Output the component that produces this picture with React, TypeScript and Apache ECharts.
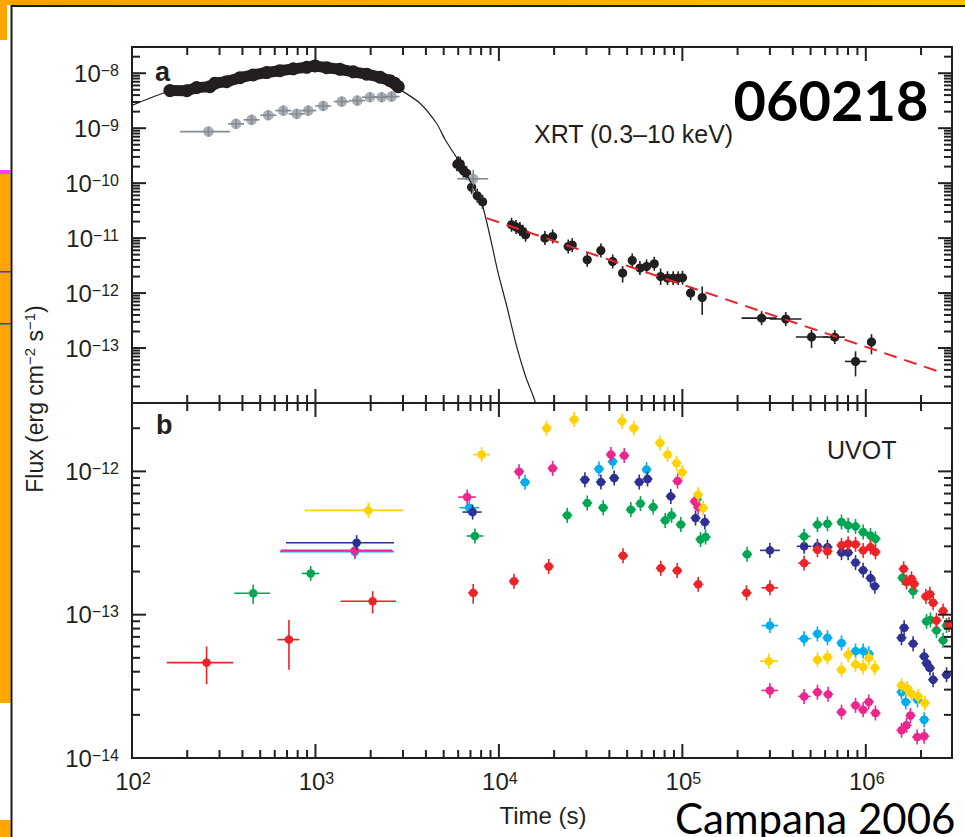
import React, { useEffect, useRef } from "react";
import * as echarts from "echarts";

// ---------- axis ranges & ticks ----------
const T_MIN = 100;
const T_MAX = 2.95e6;
const TOP_F_MIN = 1e-14;
const TOP_F_MAX = 3e-8;
const BOT_F_MIN = 1e-14;
const BOT_F_MAX = 3e-12;

const xDecades = [1e2, 1e3, 1e4, 1e5, 1e6];
const xDecadeLabels = ["2", "3", "4", "5", "6"];
const topYDecades = [1e-8, 1e-9, 1e-10, 1e-11, 1e-12, 1e-13];
const topYDecadeLabels = ["−8", "−9", "−10", "−11", "−12", "−13"];
const botYDecades = [1e-12, 1e-13, 1e-14];
const botYDecadeLabels = ["−12", "−13", "−14"];

// ---------- panel a: XRT ----------
// dense WT light curve (thick band) [t, flux]
const xrtBand = [
  [161, 4.83e-9], [199, 4.8e-9], [225, 5.47e-9], [266, 5.7e-9], [283, 6.58e-9],
  [328, 7.03e-9], [388, 8.3e-9], [458, 9.3e-9], [542, 1.03e-8], [640, 1.11e-8],
  [757, 1.2e-8], [896, 1.28e-8], [994, 1.36e-8], [1151, 1.26e-8], [1360, 1.18e-8],
  [1607, 1.06e-8], [1901, 9.6e-9], [2247, 8.46e-9], [2547, 7.3e-9], [2700, 6.6e-9], [2827, 5.7e-9],
];
// cut-off model curve [t, flux]
const modelCurve = [
  [100, 2.6e-9], [160, 4.7e-9], [300, 7.0e-9], [550, 1.0e-8], [1000, 1.3e-8],
  [1600, 1.08e-8], [2400, 7.6e-9], [2880, 5.1e-9], [3711, 2.85e-9], [4571, 1.23e-9],
  [5080, 6.3e-10], [6200, 2.2e-10], [7200, 9e-11], [8213, 3.5e-11], [9910, 2.3e-12],
  [11010, 6e-13], [12490, 1.07e-13], [14000, 3e-14], [15700, 1.1e-14], [16500, 5e-15],
];
// power-law decay (red dashed) [t, flux]
const powerLaw = [[8570, 2.31e-11], [2.48e6, 3.76e-14]];
// late XRT points [t, flux, tLo, tHi, fLo, fHi]
const xrtLate = [
  [5900, 2.2e-10], [6000, 2.31e-10], [6150, 2.25e-10], [6260, 1.87e-10], [6400, 1.7e-10],
  [6670, 1.52e-10], [7100, 8.45e-11], [7620, 5.9e-11], [8150, 4.57e-11],
  [11720, 1.75e-11], [12400, 1.6e-11], [13020, 1.46e-11], [13500, 1.3e-11], [13980, 1.15e-11],
  [17820, 1.0e-11], [19630, 1.07e-11], [23870, 7.03e-12], [25100, 7.46e-12],
  [30300, 4.03e-12], [35970, 5.96e-12], [41700, 3.76e-12], [47250, 2.31e-12, 0, 0, 1.55e-12, 3.1e-12],
  [53300, 3.92e-12], [58700, 2.85e-12], [63800, 3.05e-12], [70300, 3.41e-12],
  [76100, 2.0e-12, 0, 0, 1.4e-12, 2.8e-12], [83000, 1.87e-12, 0, 0, 1.4e-12, 2.5e-12],
  [89100, 1.87e-12, 0, 0, 1.4e-12, 2.5e-12], [94900, 1.87e-12, 0, 0, 1.4e-12, 2.5e-12], [100200, 1.9e-12],
  [110900, 1.0e-12, 0, 0, 7.4e-13, 1.3e-12], [128300, 8.3e-13, 0, 0, 4.0e-13, 1.32e-12],
  [270400, 3.5e-13, 210300, 326000], [366000, 3.37e-13, 300000, 446000],
  [506000, 1.59e-13, 415500, 623500, 1.0e-13, 2.15e-13], [677000, 1.58e-13, 585000, 769000],
  [879000, 5.7e-14, 769000, 1009000, 3.05e-14, 8.7e-14], [1074000, 1.29e-13, 0, 0, 7.7e-14, 1.79e-13],
];
// grey (BAT extrapolated) points
const batGrey = [
  [261, 8.67e-10, 183, 342], [369, 1.2e-9], [449, 1.42e-9], [553, 1.72e-9], [668, 2.09e-9],
  [790, 1.82e-9], [914, 2.09e-9], [1103, 2.54e-9], [1390, 3.05e-9], [1690, 3.18e-9],
  [1982, 3.66e-9], [2294, 3.66e-9], [2600, 3.76e-9], [7245, 1.2e-10, 5930, 8750, 6.6e-11, 1.75e-10],
];

// ---------- panel b: UVOT ----------
const uvotCyan = [
  [1640, 2.75e-13, 640, 2680], [6890, 5.58e-13, 6100, 7800], [13870, 8.4e-13], [35100, 1.04e-12],
  [41700, 1.17e-12], [63800, 1.03e-12], [120000, 6.4e-13], [300000, 8.4e-14, 270000, 332000],
  [461000, 6.8e-14, 428000, 500000], [545000, 7.36e-14], [618000, 6.9e-14], [737000, 6.34e-14],
  [879000, 5.57e-14], [967000, 5.57e-14], [1038000, 5.34e-14], [1565000, 2.88e-14],
  [1652000, 2.46e-14], [1913000, 2.55e-14], [2080000, 1.85e-14],
];
const uvotMagenta = [
  [1640, 2.81e-13, 646, 2630], [6710, 6.62e-13, 6000, 7500], [12880, 9.95e-13], [19630, 1.05e-12],
  [40800, 1.31e-12], [48200, 1.29e-12], [94100, 8.56e-13], [117000, 6.17e-13], [122000, 5.64e-13],
  [300000, 2.96e-14, 270000, 332000], [461000, 2.69e-14, 428000, 500000], [545000, 2.88e-14],
  [623000, 2.78e-14], [737000, 2.09e-14], [879000, 2.33e-14], [967000, 2.17e-14], [1038000, 2.46e-14],
  [1129000, 2.06e-14], [1565000, 1.56e-14], [1666000, 1.69e-14], [1752000, 1.98e-14],
  [1906000, 1.4e-14], [2080000, 1.42e-14],
];
const uvotYellow = [
  [1940, 5.34e-13, 877, 3010], [8050, 1.31e-12, 7240, 8930], [18200, 2.0e-12], [25700, 2.3e-12],
  [46950, 2.24e-12], [54400, 2.0e-12], [75400, 1.58e-12], [83000, 1.31e-12], [92900, 1.14e-12],
  [99700, 9.84e-13], [121900, 6.88e-13], [129800, 5.55e-13], [295800, 4.74e-14, 265000, 332000],
  [545000, 4.85e-14], [618000, 5.06e-14], [737000, 4.13e-14], [801000, 5.26e-14], [879000, 4.5e-14],
  [967000, 4.31e-14], [1038000, 4.98e-14], [1119000, 4.26e-14], [1565000, 3.21e-14],
  [1680000, 3.05e-14], [1774000, 2.81e-14], [1928000, 2.69e-14], [2097000, 2.42e-14],
];
const uvotBlue = [
  [1677, 3.18e-13, 690, 2680], [7190, 5.2e-13, 6340, 8050], [29430, 8.75e-13], [35970, 8.42e-13],
  [42500, 8.98e-13], [58200, 8.42e-13], [64600, 8.84e-13], [86500, 6.69e-13], [118000, 4.72e-13],
  [132600, 4.43e-13], [300000, 2.81e-13, 265000, 340000], [461000, 3.0e-13, 420000, 505000],
  [545000, 3.0e-13], [618000, 2.96e-13], [737000, 2.71e-13], [801000, 2.71e-13], [879000, 2.31e-13],
  [967000, 2.04e-13], [1061000, 1.8e-13], [1119000, 1.58e-13], [1565000, 6.9e-14], [1618000, 8.1e-14],
  [1811000, 6.28e-14], [2080000, 5.12e-14], [2143000, 4.59e-14], [2235000, 4.24e-14],
  [2328000, 3.52e-14], [2755000, 3.81e-14],
];
const uvotGreen = [
  [458, 1.41e-13, 361, 565, 1.19e-13, 1.62e-13], [942, 1.94e-13, 841, 1050], [7400, 3.54e-13, 6670, 8200],
  [23570, 4.93e-13], [30300, 6.01e-13], [37000, 5.58e-13], [52400, 5.41e-13], [59100, 5.96e-13],
  [69300, 5.64e-13], [80600, 4.55e-13], [87300, 4.93e-13], [98100, 4.26e-13], [125600, 3.35e-13],
  [133800, 3.48e-13], [225400, 2.64e-13], [461000, 3.52e-13, 428000, 500000], [545000, 4.25e-13],
  [618000, 4.31e-13], [737000, 4.43e-13], [801000, 4.2e-13], [879000, 4.13e-13], [967000, 3.77e-13],
  [1061000, 3.57e-13], [1129000, 3.39e-13], [1585000, 1.81e-13], [1811000, 1.46e-13],
  [2143000, 8.98e-14], [2251000, 9.2e-14], [2427000, 7.77e-14], [2637000, 6.62e-14], [2755000, 8.4e-14],
];
const uvotRed = [
  [255, 4.63e-14, 154.6, 356, 3.27e-14, 6.0e-14], [717, 6.7e-14, 620, 816, 4.13e-14, 9.2e-14],
  [2050, 1.24e-13, 1372, 2750, 1.02e-13, 1.46e-13], [7240, 1.42e-13, 0, 0, 1.19e-13, 1.64e-13],
  [12080, 1.71e-13], [18700, 2.17e-13], [47500, 2.58e-13], [76300, 2.11e-13], [93700, 2.03e-13],
  [122000, 1.63e-13], [223700, 1.42e-13], [300000, 1.54e-13, 270000, 332000],
  [461000, 2.29e-13, 428000, 500000], [545000, 2.84e-13], [618000, 2.77e-13], [737000, 3.05e-13],
  [801000, 3.13e-13], [879000, 3.1e-13], [967000, 2.81e-13], [1061000, 2.96e-13], [1129000, 2.74e-13],
  [1608000, 2.09e-13], [1666000, 1.69e-13], [1774000, 1.78e-13], [1835000, 1.64e-13],
  [2125000, 1.34e-13], [2235000, 1.39e-13], [2328000, 1.21e-13], [2427000, 9.12e-14],
  [2637000, 1.06e-13], [2843000, 8.55e-14],
];

// ---------- styling ----------
const INK = "#231f20";
const FONT = '"Liberation Sans", Arial, Helvetica, sans-serif';
const C_RED = "#ec2327";
const C_GREEN = "#00a651";
const C_BLUE = "#2e3192";
const C_MAGENTA = "#ec268f";
const C_CYAN = "#00aeef";
const C_YELLOW = "#ffd200";
const C_GREY = "#a9afb5";
const C_GREY_BAR = "#858a8f";
const C_ORANGE = "#ffa500";

const pad6 = (a: number[]) => [a[0], a[1], a[2] || 0, a[3] || 0, a[4] || 0, a[5] || 0];

function errRender(fill: string, r: number, wy: number, wx: number, barColor: string, barsOnTop: boolean) {
  return (params: any, api: any) => {
    const t = api.value(0), f = api.value(1);
    const tLo = api.value(2), tHi = api.value(3), fLo = api.value(4), fHi = api.value(5);
    const c = api.coord([t, f]);
    const ls = { stroke: barColor, lineWidth: 1.6 };
    let y1 = c[1] - wy, y2 = c[1] + wy;
    if (fLo > 0 && fHi > 0) {
      y1 = api.coord([t, fHi])[1];
      y2 = api.coord([t, fLo])[1];
    }
    let x1 = c[0] - wx, x2 = c[0] + wx;
    if (tLo > 0 && tHi > 0) {
      x1 = api.coord([tLo, f])[0];
      x2 = api.coord([tHi, f])[0];
    }
    const bars: any[] = [{ type: "line", shape: { x1: c[0], y1, x2: c[0], y2 }, style: ls }];
    if (x2 - x1 > 0.5) bars.push({ type: "line", shape: { x1, y1: c[1], x2, y2: c[1] }, style: ls });
    const dot = { type: "circle", shape: { cx: c[0], cy: c[1], r }, style: { fill } };
    return { type: "group", children: barsOnTop ? [dot, ...bars] : [...bars, dot] };
  };
}

function pointSeries(data: number[][], grid: number, fill: string, r: number, wy: number, wx: number, bar: string, barsOnTop = false) {
  return {
    type: "custom",
    xAxisIndex: grid,
    yAxisIndex: grid,
    clip: true,
    silent: true,
    encode: { x: 0, y: 1 },
    renderItem: errRender(fill, r, wy, wx, bar, barsOnTop),
    data: data.map(pad6),
  };
}

// tick values of a log axis between lo and hi
function logTicks(lo: number, hi: number) {
  const out: number[][] = [];
  const e0 = Math.floor(Math.log10(lo)) - 1;
  const e1 = Math.ceil(Math.log10(hi));
  for (let e = e0; e <= e1; e++) {
    for (let m = 1; m <= 9; m++) {
      const v = m * Math.pow(10, e);
      if (v >= lo * (1 - 1e-9) && v <= hi * (1 - 1e-6)) out.push([v, m === 1 ? 1 : 0]);
    }
  }
  return out;
}

const MAJ = 14;
const MIN = 8;
const tickStyle = { stroke: INK, lineWidth: 2 };

function xTickRender(params: any, api: any) {
  const cs = params.coordSys;
  const x = api.coord([api.value(0), api.value(1)])[0];
  const L = api.value(2) ? MAJ : MIN;
  return {
    type: "group",
    children: [
      { type: "line", shape: { x1: x, y1: cs.y, x2: x, y2: cs.y + L }, style: tickStyle },
      { type: "line", shape: { x1: x, y1: cs.y + cs.height, x2: x, y2: cs.y + cs.height - L }, style: tickStyle },
    ],
  };
}
function yTickRender(params: any, api: any) {
  const cs = params.coordSys;
  const y = api.coord([api.value(0), api.value(1)])[1];
  const L = api.value(2) ? MAJ : MIN;
  return {
    type: "group",
    children: [
      { type: "line", shape: { x1: cs.x, y1: y, x2: cs.x + L, y2: y }, style: tickStyle },
      { type: "line", shape: { x1: cs.x + cs.width, y1: y, x2: cs.x + cs.width - L, y2: y }, style: tickStyle },
    ],
  };
}

const labelRich = {
  b: { fontFamily: FONT, fontSize: 24, fill: INK, color: INK, lineHeight: 22 },
  s: { fontFamily: FONT, fontSize: 16, fill: INK, color: INK, lineHeight: 14, verticalAlign: "top" },
};

function yLabelRender(labels: string[]) {
  return (params: any, api: any) => {
    const cs = params.coordSys;
    const y = api.coord([api.value(0), api.value(1)])[1];
    return {
      type: "text",
      x: cs.x - 13,
      y,
      style: {
        text: `{b|10}{s|${labels[params.dataIndex]}}`,
        rich: labelRich,
        fontFamily: FONT,
        fontSize: 24,
        fill: INK,
        align: "right",
        textAlign: "right",
        verticalAlign: "middle",
        textVerticalAlign: "middle",
      },
    };
  };
}
function xLabelRender(labels: string[]) {
  return (params: any, api: any) => {
    const cs = params.coordSys;
    const x = api.coord([api.value(0), api.value(1)])[0];
    return {
      type: "text",
      x: x + 1,
      y: cs.y + cs.height + 23,
      style: {
        text: `{b|10}{s|${labels[params.dataIndex]}}`,
        rich: labelRich,
        fontFamily: FONT,
        fontSize: 24,
        fill: INK,
        align: "center",
        textAlign: "center",
        verticalAlign: "middle",
        textVerticalAlign: "middle",
      },
    };
  };
}

function tickSeries(grid: number, xLo: number, xHi: number, yLo: number, yHi: number) {
  const xRefY = yLo * 10;
  const yRefX = xLo * 2;
  return [
    {
      type: "custom", xAxisIndex: grid, yAxisIndex: grid, silent: true, z: 5,
      encode: { x: 0, y: 1 }, renderItem: xTickRender,
      data: logTicks(xLo, xHi).map((d) => [d[0], xRefY, d[1]]),
    },
    {
      type: "custom", xAxisIndex: grid, yAxisIndex: grid, silent: true, z: 5,
      encode: { x: 0, y: 1 }, renderItem: yTickRender,
      data: logTicks(yLo, yHi).map((d) => [yRefX, d[0], d[1]]),
    },
  ];
}

function buildOption() {
  const txt = (text: string, x: number, y: number, size: number, extra: any = {}) => ({
    type: "text",
    x,
    y,
    z: 100,
    style: {
      text,
      fontFamily: FONT,
      fontSize: size,
      fill: INK,
      align: "left",
      textAlign: "left",
      verticalAlign: "middle",
      textVerticalAlign: "middle",
      ...extra,
    },
  });

  const rect = (x: number, y: number, w: number, h: number, fill: any) => ({
    type: "rect",
    shape: { x, y, width: w, height: h },
    style: { fill },
    z: 50,
    silent: true,
  });

  return {
    animation: false,
    backgroundColor: "#ffffff",
    grid: [
      { left: 132, top: 47, width: 820, height: 356, show: true, borderColor: INK, borderWidth: 2, backgroundColor: "transparent" },
      { left: 132, top: 403, width: 820, height: 355, show: true, borderColor: INK, borderWidth: 2, backgroundColor: "transparent" },
    ],
    xAxis: [0, 1].map((i) => ({
      type: "log", logBase: 10, gridIndex: i, min: T_MIN, max: T_MAX,
      axisLine: { show: false }, axisTick: { show: false }, axisLabel: { show: false }, splitLine: { show: false },
    })),
    yAxis: [
      { type: "log", logBase: 10, gridIndex: 0, min: TOP_F_MIN, max: TOP_F_MAX,
        axisLine: { show: false }, axisTick: { show: false }, axisLabel: { show: false }, splitLine: { show: false } },
      { type: "log", logBase: 10, gridIndex: 1, min: BOT_F_MIN, max: BOT_F_MAX,
        axisLine: { show: false }, axisTick: { show: false }, axisLabel: { show: false }, splitLine: { show: false } },
    ],
    series: [
      // ---- panel a ----
      {
        type: "line", xAxisIndex: 0, yAxisIndex: 0, data: modelCurve, smooth: 0.25,
        showSymbol: false, silent: true, clip: true,
        lineStyle: { color: INK, width: 1.2 },
      },
      {
        type: "line", xAxisIndex: 0, yAxisIndex: 0, data: powerLaw, showSymbol: false, silent: true,
        lineStyle: { color: C_RED, width: 2, type: [13, 8] },
      },
      pointSeries(xrtLate, 0, INK, 4.6, 7, 3, INK),
      {
        type: "line", xAxisIndex: 0, yAxisIndex: 0, data: xrtBand, silent: true,
        symbol: "circle", symbolSize: 13, itemStyle: { color: INK },
        lineStyle: { color: INK, width: 11, cap: "round", join: "round" },
      },
      pointSeries(batGrey, 0, C_GREY, 5.3, 5, 8, C_GREY_BAR, true),
      // ---- panel b ----
      pointSeries(uvotCyan, 1, C_CYAN, 4.3, 7.5, 5, C_CYAN),
      pointSeries(uvotMagenta, 1, C_MAGENTA, 4.3, 7.5, 5, C_MAGENTA),
      pointSeries(uvotYellow, 1, C_YELLOW, 4.3, 7.5, 5, C_YELLOW),
      pointSeries(uvotBlue, 1, C_BLUE, 4.3, 7.5, 5, C_BLUE),
      pointSeries(uvotGreen, 1, C_GREEN, 4.3, 7.5, 5, C_GREEN),
      pointSeries(uvotRed, 1, C_RED, 4.3, 7.5, 5, C_RED),
      // ---- ticks ----
      ...tickSeries(0, T_MIN, T_MAX, TOP_F_MIN, TOP_F_MAX),
      ...tickSeries(1, T_MIN, T_MAX, BOT_F_MIN, BOT_F_MAX),
      // ---- tick labels ----
      {
        type: "custom", xAxisIndex: 0, yAxisIndex: 0, silent: true, z: 6, encode: { x: 0, y: 1 },
        renderItem: yLabelRender(topYDecadeLabels), data: topYDecades.map((v) => [T_MIN, v]),
      },
      {
        type: "custom", xAxisIndex: 1, yAxisIndex: 1, silent: true, z: 6, encode: { x: 0, y: 1 },
        renderItem: yLabelRender(botYDecadeLabels), data: botYDecades.map((v) => [T_MIN, v]),
      },
      {
        type: "custom", xAxisIndex: 1, yAxisIndex: 1, silent: true, z: 6, encode: { x: 0, y: 1 },
        renderItem: xLabelRender(xDecadeLabels), data: xDecades.map((v) => [v, BOT_F_MIN]),
      },
    ],
    graphic: [
      // slide decoration
      rect(0, 0, 965, 5, new echarts.graphic.LinearGradient(0, 0, 1, 0, [
        { offset: 0, color: "#f7a100" }, { offset: 1, color: "#ffc000" },
      ])),
      rect(0, 0, 7, 40, C_ORANGE),
      rect(11, 5, 954, 2, "#1a1a1a"),
      rect(0, 170, 10.5, 4, "#ff3cff"),
      rect(0, 174, 10.5, 529, C_ORANGE),
      rect(0, 271, 10.5, 1.5, "#2040ff"),
      rect(0, 323, 10.5, 1.5, "#2040ff"),
      rect(0, 820, 10.5, 17, C_ORANGE),
      rect(10.5, 5, 2, 832, "#1a1a1a"),
      // panel texts
      txt("a", 155, 72, 27, { fontWeight: "bold" }),
      txt("b", 156, 425, 27, { fontWeight: "bold" }),
      txt("XRT (0.3–10 keV)", 534, 134, 25),
      txt("UVOT", 827, 450, 25),
      txt("060218", 831, 99, 56, { fontWeight: "bold", fontFamily: "Lato, 'Open Sans', sans-serif", fill: "#000", align: "center", textAlign: "center" }),
      txt("Campana 2006", 675, 818, 42, { fontFamily: "Lato, 'Open Sans', sans-serif", fill: "#000", lineHeight: 30 }),
      txt("Time (s)", 543, 815, 24, { align: "center", textAlign: "center", lineHeight: 24 }),
      {
        type: "text",
        x: 35,
        y: 399,
        rotation: Math.PI / 2,
        z: 100,
        style: {
          text: "{b|Flux (erg cm}{s|−2}{b| s}{s|−1}{b|)}",
          rich: {
            b: { fontFamily: FONT, fontSize: 23, fill: INK, color: INK, lineHeight: 26 },
            s: { fontFamily: FONT, fontSize: 15, fill: INK, color: INK, lineHeight: 15, verticalAlign: "top" },
          },
          fontFamily: FONT,
          fontSize: 23,
          fill: INK,
          align: "center",
          textAlign: "center",
          verticalAlign: "middle",
          textVerticalAlign: "middle",
        },
      },
    ],
  };
}

export default function App() {
  const ref = useRef<HTMLDivElement>(null);
  useEffect(() => {
    if (!ref.current) return;
    const chart = echarts.init(ref.current, undefined, { renderer: "svg" });
    chart.setOption(buildOption() as any);
    return () => chart.dispose();
  }, []);
  return (
    <div
      ref={ref}
      style={{ position: "fixed", left: 0, top: 0, width: 965, height: 837, background: "#fff" }}
    />
  );
}
